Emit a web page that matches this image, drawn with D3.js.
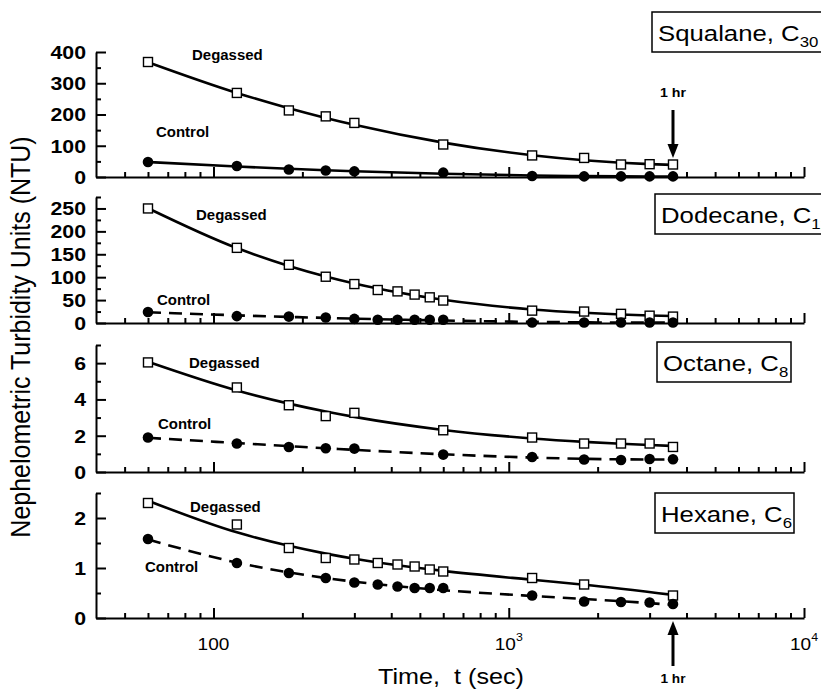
<!DOCTYPE html>
<html><head><meta charset="utf-8">
<script src="https://cdn.jsdelivr.net/npm/d3@7"></script>
<style>
html,body{margin:0;padding:0;background:#fff;}
svg{display:block;font-family:"Liberation Sans",Arial,sans-serif;}
</style></head>
<body>
<svg id="chart" width="821" height="689"></svg>
<script>
// ---------- DATA ----------
const panelNames = ["Squalane, C", "Dodecane, C", "Octane, C", "Hexane, C"];
const panelSubs = ["30", "12", "8", "6"];

const timesSqualane = [60,120,180,240,300,600,1200,1800,2400,3000,3600];
const squalaneDegassed = [368,269,213,194,173,104,69,61,40,41,40];
const squalaneControl = [48,35,24,21,18,14,3,2,2,2,2];

const timesDodecane = [60,120,180,240,300,360,420,480,540,600,1200,1800,2400,3000,3600];
const dodecaneDegassed = [250,164,127,101,85,72,69,62,56,49,27,25,20,16,14];
const dodecaneControl = [24,15,14,12,9,7,7,7,7,7,1,1,1,1,1];

const timesOctane = [60,120,180,240,300,600,1200,1800,2400,3000,3600];
const octaneDegassed = [6.04,4.66,3.68,3.08,3.26,2.30,1.90,1.57,1.57,1.57,1.38];
const octaneControl = [1.90,1.57,1.38,1.31,1.29,0.96,0.83,0.69,0.66,0.72,0.70];

const timesHexaneDegassed = [60,120,180,240,300,360,420,480,540,600,1200,1800,3600];
const hexaneDegassed = [2.30,1.87,1.40,1.20,1.17,1.10,1.07,1.03,0.97,0.93,0.80,0.67,0.45];
const timesHexaneControl = [60,120,180,240,300,360,420,480,540,600,1200,1800,2400,3000,3600];
const hexaneControl = [1.58,1.10,0.90,0.80,0.71,0.67,0.63,0.60,0.60,0.60,0.45,0.33,0.32,0.31,0.28];

const yMajorTicks = [[0,100,200,300,400],[0,50,100,150,200,250],[0,2,4,6],[0,1,2]];
const yMinorTicks = [[50,150,250,350],[25,75,125,175,225,275],[1,3,5,7],[0.5,1.5,2.5]];
const yMax = [400,275,7,2.5];
const xDomain = [40, 10000];
const xMajorTicks = [100, 1000, 10000];
const xTickLabels = [["100",""],["10","3"],["10","4"]];
const oneHour = 3600;

// ---------- HELPERS ----------
const svg = d3.select("#chart");
const SX = 1.12; // horizontal stretch of the reference's lettering
function label(parent, x, y, str, o = {}) {
  const t = parent.append("text")
    .attr("transform", `translate(${x},${y}) scale(${o.sx || SX},1)`)
    .attr("font-size", o.size || 14)
    .attr("font-weight", o.weight || "normal")
    .attr("text-anchor", o.anchor || "start")
    .attr("fill", "#000");
  if (str !== null) t.text(str);
  return t;
}
// least-squares cubic fit in log10(t) (drawn as the smooth trend line)
function cubicFit(ts, vs) {
  const n = 4, A = Array.from({length:n},()=>Array(n+1).fill(0));
  ts.forEach((t,k) => {
    const u = Math.log10(t), p = [1,u,u*u,u*u*u];
    for (let i=0;i<n;i++){ for (let j=0;j<n;j++) A[i][j]+=p[i]*p[j]; A[i][n]+=p[i]*vs[k]; }
  });
  for (let c=0;c<n;c++){
    let piv=c; for (let r=c+1;r<n;r++) if (Math.abs(A[r][c])>Math.abs(A[piv][c])) piv=r;
    [A[c],A[piv]]=[A[piv],A[c]];
    for (let r=0;r<n;r++){ if(r===c) continue; const f=A[r][c]/A[c][c]; for(let j=c;j<=n;j++) A[r][j]-=f*A[c][j]; }
  }
  const coef = A.map((row,i)=>row[n]/row[i]);
  return ts.map(t => { const u=Math.log10(t); return coef[0]+coef[1]*u+coef[2]*u*u+coef[3]*u*u*u; });
}

// ---------- LAYOUT ----------
const left = 96, right = 804;
const panelBox = [[52,177],[197,323],[345,472],[493,618]];
const x = d3.scaleLog().domain(xDomain).range([left, right]);

const series = [
  {tD: timesSqualane, d: squalaneDegassed, tC: timesSqualane, c: squalaneControl, dashC: false},
  {tD: timesDodecane, d: dodecaneDegassed, tC: timesDodecane, c: dodecaneControl, dashC: true},
  {tD: timesOctane, d: octaneDegassed, tC: timesOctane, c: octaneControl, dashC: true},
  {tD: timesHexaneDegassed, d: hexaneDegassed, tC: timesHexaneControl, c: hexaneControl, dashC: true}
];
const labelPos = [
  {dg:[192,60], ct:[156,137]},
  {dg:[196,220], ct:[157,305]},
  {dg:[189,368], ct:[158,429]},
  {dg:[190,512], ct:[145,572]}
];
const boxes = [
  {x:652,y:12,w:185},
  {x:655,y:194,w:185},
  {x:657,y:342,w:134},
  {x:655,y:493,w:139}
];

const minorX = [];
[10,100,1000].forEach(dec => { for (let k=2;k<=9;k++){ const v=k*dec; if (v>xDomain[0] && v<xDomain[1]) minorX.push(v);} });

series.forEach((s, i) => {
  const [top, bottom] = panelBox[i];
  const y = d3.scaleLinear().domain([0, yMax[i]]).range([bottom, top]);
  const g = svg.append("g");

  // y axis (inward ticks)
  const ya = g.append("g").attr("transform", `translate(${left},0)`)
    .call(d3.axisLeft(y).tickValues(yMajorTicks[i]).tickSize(-10).tickSizeOuter(0).tickFormat(""));
  ya.select(".domain").attr("stroke-width", 2);
  ya.selectAll(".tick line").attr("stroke-width", 2);
  const ym = g.append("g").attr("transform", `translate(${left},0)`)
    .call(d3.axisLeft(y).tickValues(yMinorTicks[i]).tickSize(-5).tickSizeOuter(0).tickFormat(""));
  ym.select(".domain").remove();
  ym.selectAll(".tick line").attr("stroke-width", 2);
  yMajorTicks[i].forEach(v => label(g, 86, y(v) + 6.8, d3.format("~g")(v), {size:19, weight:"bold", anchor:"end"}));

  // x axis (inward ticks)
  const xa = g.append("g").attr("transform", `translate(0,${bottom})`)
    .call(d3.axisBottom(x).tickValues(xMajorTicks).tickSize(-10).tickSizeOuter(0).tickFormat(""));
  xa.select(".domain").attr("stroke-width", 2);
  xa.selectAll(".tick line").attr("stroke-width", 2);
  const xm = g.append("g").attr("transform", `translate(0,${bottom})`)
    .call(d3.axisBottom(x).tickValues(minorX).tickSize(-5).tickSizeOuter(0).tickFormat(""));
  xm.select(".domain").remove();
  xm.selectAll(".tick line").attr("stroke-width", 2);

  // smooth trend lines
  const line = (ts) => d3.line().x((d,k) => x(ts[k])).y(d => y(d)).curve(d3.curveMonotoneX);
  g.append("path").datum(cubicFit(s.tD, s.d)).attr("d", line(s.tD))
    .attr("fill","none").attr("stroke","#000").attr("stroke-width",2.6);
  g.append("path").datum(cubicFit(s.tC, s.c)).attr("d", line(s.tC))
    .attr("fill","none").attr("stroke","#000").attr("stroke-width",2.6)
    .attr("stroke-dasharray", s.dashC ? "13,8" : null);

  // markers
  g.selectAll(".sq").data(s.d).enter().append("rect")
    .attr("x",(d,k)=>x(s.tD[k])-4.5).attr("y",d=>y(d)-4.5)
    .attr("width",9).attr("height",9)
    .attr("fill","#fff").attr("stroke","#000").attr("stroke-width",1.4);
  g.selectAll(".ci").data(s.c).enter().append("circle")
    .attr("cx",(d,k)=>x(s.tC[k])).attr("cy",d=>y(d)).attr("r",5.3).attr("fill","#000");

  // series labels
  label(g, labelPos[i].dg[0], labelPos[i].dg[1], "Degassed", {size:14, weight:"bold", sx:1.07});
  label(g, labelPos[i].ct[0], labelPos[i].ct[1], "Control", {size:14, weight:"bold", sx:1.07});

  // panel label box
  const b = boxes[i];
  g.append("rect").attr("x",b.x).attr("y",b.y).attr("width",b.w).attr("height",40)
    .attr("fill","#fff").attr("stroke","#000").attr("stroke-width",1.5);
  const t = label(g, b.x+6, b.y+29, null, {size:23});
  t.append("tspan").text(panelNames[i]);
  t.append("tspan").attr("font-size",15).attr("dy",6).text(panelSubs[i]);
});

// x tick labels (bottom panel)
xMajorTicks.forEach((v,k) => {
  const [base, sup] = xTickLabels[k];
  const t = label(svg, x(v), 650, null, {size:17, anchor:"middle"});
  t.append("tspan").text(base);
  if (sup) t.append("tspan").attr("font-size", 11).attr("dy", -9).text(sup);
});

// axis titles
label(svg, 451, 684, "Time,  t (sec)", {size:22.5, anchor:"middle"}).attr("xml:space","preserve");
svg.append("text").attr("transform","translate(30,337) rotate(-90) scale(1,1.12)").attr("text-anchor","middle")
  .attr("font-size", 25).attr("fill","#000").text("Nephelometric Turbidity Units (NTU)");

// 1 hr arrows
function arrow(xp, y0, y1) {
  const dir = Math.sign(y1 - y0);
  svg.append("line").attr("x1",xp).attr("x2",xp).attr("y1",y0).attr("y2",y1 - dir*12)
    .attr("stroke","#000").attr("stroke-width",3);
  svg.append("path").attr("d",`M${xp-5.5},${y1-dir*14} L${xp+5.5},${y1-dir*14} L${xp},${y1} Z`).attr("fill","#000");
}
const xh = x(oneHour);
arrow(xh, 110, 158);
label(svg, xh, 97, "1 hr", {size:13.5, weight:"bold", anchor:"middle", sx:1.05});
arrow(xh, 666, 621);
label(svg, xh, 683, "1 hr", {size:13, weight:"bold", anchor:"middle", sx:1.05});
</script>
</body></html>
